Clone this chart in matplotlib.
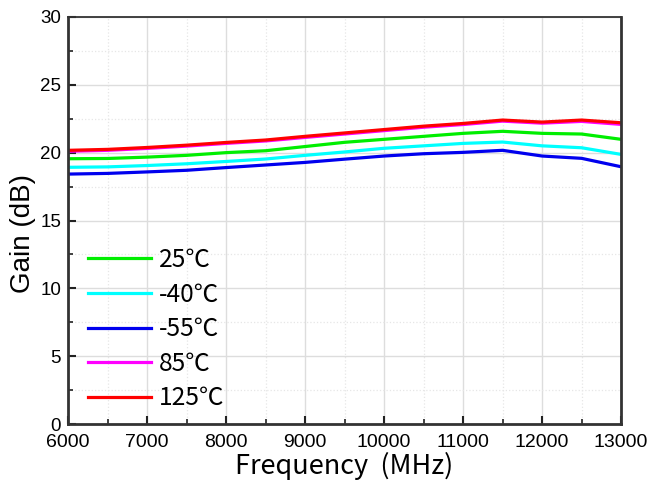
import matplotlib
matplotlib.use('Agg')
import matplotlib.pyplot as plt
from matplotlib.ticker import MultipleLocator

plt.rcParams['font.family'] = ['Liberation Sans', 'DejaVu Sans']

freq = [6000, 6500, 7000, 7500, 8000, 8500, 9000, 9500, 10000, 10500, 11000, 11500, 12000, 12500, 13000]

gain_25 = [19.55, 19.57, 19.67, 19.80, 20.00, 20.14, 20.45, 20.76, 20.98, 21.20, 21.42, 21.57, 21.42, 21.37, 20.98]
gain_m40 = [18.92, 18.95, 19.05, 19.18, 19.35, 19.53, 19.80, 20.05, 20.32, 20.50, 20.68, 20.78, 20.50, 20.36, 19.87]
gain_m55 = [18.42, 18.47, 18.58, 18.70, 18.90, 19.09, 19.28, 19.52, 19.75, 19.92, 20.02, 20.17, 19.75, 19.58, 18.96]
gain_85 = [20.10, 20.17, 20.31, 20.48, 20.68, 20.86, 21.12, 21.37, 21.62, 21.87, 22.07, 22.32, 22.17, 22.30, 22.08]
gain_125 = [20.17, 20.24, 20.38, 20.55, 20.75, 20.93, 21.20, 21.45, 21.70, 21.95, 22.15, 22.40, 22.25, 22.40, 22.20]

series = [
    ('25℃', gain_25, '#00ee00'),
    ('-40℃', gain_m40, '#00ffff'),
    ('-55℃', gain_m55, '#0000ee'),
    ('85℃', gain_85, '#ff00ff'),
    ('125℃', gain_125, '#ff0000'),
]

cjk_font = ['Noto Sans CJK SC', 'DejaVu Sans']

fig = plt.figure(figsize=(6.49, 4.82), dpi=100)
ax = fig.add_axes([0.105, 0.12, 0.852, 0.845])

for name, vals, col in series:
    ax.plot(freq, vals, color=col, linewidth=2.3, label=name)

ax.set_xlim(6000, 13000)
ax.set_ylim(0, 30)
ax.xaxis.set_major_locator(MultipleLocator(1000))
ax.xaxis.set_minor_locator(MultipleLocator(500))
ax.yaxis.set_major_locator(MultipleLocator(5))
ax.yaxis.set_minor_locator(MultipleLocator(2.5))

ax.grid(which='major', color='#dddddd', linewidth=1.0, linestyle='-')
ax.grid(which='minor', color='#e6e6e6', linewidth=0.9, linestyle=':')
ax.set_axisbelow(True)

ax.tick_params(which='major', direction='in', length=6, width=1.5, colors='#222222', labelcolor='black')
ax.tick_params(which='minor', direction='in', length=3.5, width=1.2, colors='#222222')
ax.tick_params(axis='x', labelsize=14, pad=7)
ax.tick_params(axis='y', labelsize=13.5, pad=5)

for side in ['left', 'bottom', 'right']:
    ax.spines[side].set_linewidth(2.0)
    ax.spines[side].set_color('#333333')
ax.spines['top'].set_linewidth(1.3)
ax.spines['top'].set_color('#333333')

ax.set_xlabel('Frequency  (MHz)', fontsize=19.5, family=cjk_font, labelpad=1)
ax.set_ylabel('Gain (dB)', fontsize=20)
ax.yaxis.set_label_coords(-0.058, 0.467)

leg = ax.legend(loc='lower left', frameon=False, prop={'family': cjk_font, 'size': 17.7},
                handlelength=2.6, handletextpad=0.3, labelspacing=0.35,
                bbox_to_anchor=(-0.005, -0.023))

fig.savefig('out.png', dpi=100)
